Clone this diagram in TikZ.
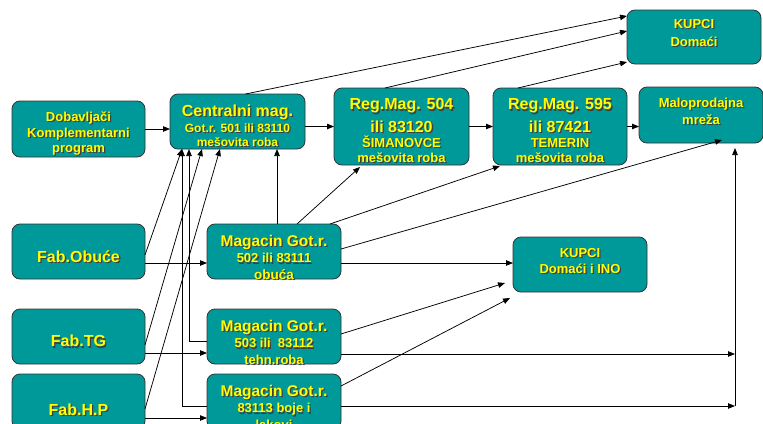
\documentclass[tikz,border=0pt]{standalone}
\usepackage{fontspec}
\setmainfont{Liberation Sans}
\usepackage{tikz}
\usetikzlibrary{arrows.meta}
\tikzset{
	box/.style={draw=borderColor, fill=boxColor, rounded corners=8pt, line width=0.8pt,
		minimum width=134pt, minimum height=55pt, inner sep=0pt, outer sep=0pt},
	boxtext/.style={align=center, inner sep=0pt, text=yellowColor,
		font=\bfseries\fontsize{13pt}{#1}\selectfont},
	boxtext/.default=16pt
}
\definecolor{boxColor}{HTML}{009999}
\definecolor{borderColor}{HTML}{333333}
\definecolor{yellowColor}{HTML}{FFFF00}
\definecolor{shadowColor}{HTML}{404040}
\newcommand{\shtxt}[1]{\makebox[0pt][l]{\hspace{1.3pt}\raisebox{-1.3pt}{\textcolor{shadowColor}{#1}}}#1}
\newcommand{\shln}[2]{{\fontsize{#1pt}{#1pt}\selectfont\shtxt{#2}}}

\begin{document}
\begin{tikzpicture}[x=1pt, y=-1pt, ->, >={Triangle[length=7pt,width=5.5pt]}, line width=0.75pt]
	\clip (0,0) rectangle (763,423);
	\fill[white] (0,0) rectangle (763,423);
	
	\node[box, minimum width=133pt, minimum height=56pt, label={[boxtext=15pt, yshift=-5pt]center:{%
			\shln{13}{Dobavljači}\\[1.5pt]\shln{13}{Komplementarni}\\\shln{13}{program}}}] (dob) at (78.5,129) {};
	\node[box, minimum width=135pt, label={[boxtext=14pt, yshift=-4.5pt]center:{%
			\shln{16}{Centralni mag.}\\[2pt]\shln{12}{Got.r. 501 ili 83110}\\\shln{12}{mešovita roba}}}] (central) at (237.5,121.5) {};
	\node[box, minimum width=135pt, minimum height=77pt, label={[boxtext=15pt, yshift=-4.75pt]center:{%
			\shln{16}{Reg.Mag. 504}\\[5pt]\shln{16}{ili 83120}\\\shln{13}{ŠIMANOVCE}\\\shln{13}{mešovita roba}}}] (reg504) at (401.5,126.5) {};
	\node[box, minimum height=77pt, label={[boxtext=15pt, yshift=-4.75pt]center:{%
			\shln{16}{Reg.Mag. 595}\\[5pt]\shln{16}{ili 87421}\\\shln{13}{TEMERIN}\\\shln{13}{mešovita roba}}}] (reg595) at (560,126.5) {};
	\node[box, minimum width=124pt, minimum height=56pt, label={[boxtext=17pt, yshift=3.25pt]center:{%
			\shln{13}{Maloprodajna}\\\shln{13}{mreža}}}] (malo) at (701,115) {};
	\node[box, minimum height=54pt, label={[boxtext=18pt, yshift=3.35pt]center:{%
			\shln{13}{KUPCI}\\\shln{13}{Domaći}}}] (kupci1) at (694,37) {};
	\node[box, minimum width=133pt, label={[boxtext, yshift=-6pt]center:{\shln{16}{Fab.Obuće}}}] (fobuce) at (78.5,251.5) {};
	\node[box, label={[boxtext=16.5pt, yshift=-6.35pt]center:{%
			\shln{15.5}{Magacin Got.r.}\\\shln{13}{502 ili 83111}\\\shln{13.5}{obuća}}}] (mag502) at (274,251.5) {};
	\node[box, label={[boxtext=16pt, yshift=2.85pt]center:{%
			\shln{13}{KUPCI}\\\shln{13}{Domaći i INO}}}] (kupci2) at (580,264.5) {};
	\node[box, minimum width=133pt, label={[boxtext, yshift=-5.35pt]center:{\shln{16}{Fab.TG}}}] (ftg) at (78.5,336.5) {};
	\node[box, label={[boxtext=16.5pt, yshift=-6.35pt]center:{%
			\shln{15.5}{Magacin Got.r.}\\\shln{13}{503 ili\ \ 83112}\\\shln{13}{tehn.roba}}}] (mag503) at (274,336.5) {};
	\node[box, minimum width=133pt, label={[boxtext, yshift=-8.65pt]center:{\shln{16}{Fab.H.P}}}] (fhp) at (78.5,401.5) {};
	\node[box, label={[boxtext=16.5pt, yshift=-6.35pt]center:{%
			\shln{15.5}{Magacin Got.r.}\\\shln{13}{83113 boje i}\\\shln{13}{lakovi}}}] (mag83113) at (274,401.5) {};
	
	\coordinate (mid503) at (735,354);
	\coordinate (mid83113) at (735,406);
	
	% top row
	\path (dob.east) edge (dob.east -| central.west);
	\path (reg504.west -| central.east) edge (reg504.west);
	\path (reg504.east) edge (reg595.west);
	\path (reg595.east) edge (reg595.east -| malo.west);
	\path ([xshift=8pt]central.north) edge ([yshift=21pt]kupci1.west);
	\path ([xshift=-16.5pt]reg504.north) edge ([yshift=6pt]kupci1.west);
	\path ([xshift=-42pt]reg595.north) edge ([yshift=-25pt]kupci1.west);
	
	% factories to stores
	\path ([yshift=-11.5pt]fobuce.east) edge ([yshift=-11.5pt]mag502.west);
	\path ([yshift=-16.5pt]ftg.east) edge ([yshift=-16.5pt]mag503.west);
	\path ([yshift=-16.5pt]fhp.east) edge ([yshift=-16.5pt]mag83113.west);
	\path ([yshift=-3.5pt]fobuce.east) edge ([xshift=-55.5pt]central.south);
	\path ([yshift=-8.5pt]ftg.east) edge ([xshift=-35.5pt]central.south);
	\path ([yshift=-7.5pt]fhp.east) edge ([xshift=-17.5pt]central.south);
	\draw ([yshift=-4.5pt]mag503.west) -| ([xshift=-48.5pt]central.south);
	\draw ([yshift=-4.5pt]mag83113.west) -| ([xshift=-55.5pt]central.south);
	
	% stores out
	\path ([xshift=3pt]mag502.north) edge ([xshift=39.5pt]central.south);
	\path ([xshift=23pt]mag502.north) edge ([xshift=-41.5pt,yshift=-2pt]reg504.south);
	\path ([xshift=56pt]mag502.north) edge ([xshift=-60pt,yshift=-1pt]reg595.south);
	\path ([yshift=2.5pt]mag502.east) edge ([xshift=21pt,yshift=3pt]malo.south);
	\path ([yshift=-11.5pt]mag502.east) edge ([yshift=1.5pt]kupci2.west);
	\path ([yshift=2.5pt]mag503.east) edge ([xshift=-8pt,yshift=9pt]kupci2.south west);
	\path ([yshift=15.5pt]mag83113.east) edge ([xshift=-3pt,yshift=-6pt]kupci2.south west);
	\path ([yshift=-17.5pt]mag503.east) edge (mid503);
	\path ([yshift=-4.5pt]mag83113.east) edge (mid83113);
	\path (mid83113) edge ([xshift=34pt,yshift=-5pt]malo.south);
\end{tikzpicture}
\end{document}
